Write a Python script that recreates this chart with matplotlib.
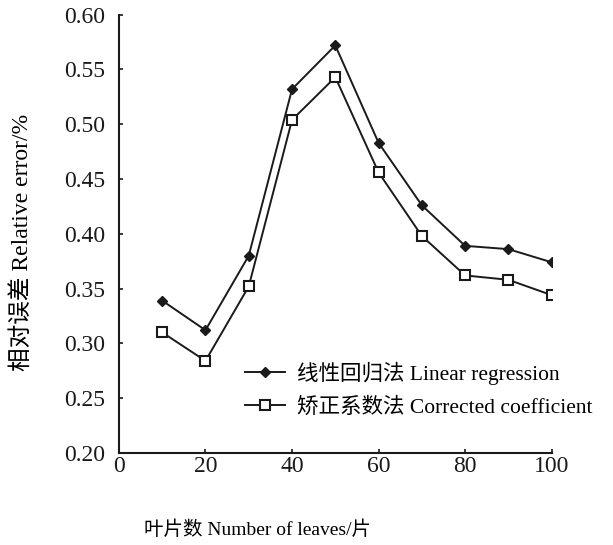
import matplotlib
matplotlib.use("Agg")
import matplotlib.pyplot as plt

plt.rcParams["font.family"] = ["Liberation Serif", "Noto Sans CJK SC"]
plt.rcParams["axes.unicode_minus"] = False

leaves = [10, 20, 30, 40, 50, 60, 70, 80, 90, 100]
linear_reg = [0.339, 0.312, 0.380, 0.532, 0.572, 0.483, 0.426, 0.389, 0.386, 0.374]
corrected = [0.310, 0.284, 0.352, 0.504, 0.543, 0.456, 0.398, 0.362, 0.358, 0.344]

x_ticks = [0, 20, 40, 60, 80, 100]
y_ticks = [0.20, 0.25, 0.30, 0.35, 0.40, 0.45, 0.50, 0.55, 0.60]

C_LINE = "#1a1a1a"

fig = plt.figure(figsize=(6.13, 5.45), dpi=100)
ax = fig.add_axes([0.194, 0.169, 0.706, 0.804])

ax.plot(leaves, linear_reg, color=C_LINE, lw=1.4, marker="D", ms=5,
        mfc=C_LINE, mec=C_LINE, label="线性回归法 Linear regression")
ax.plot(leaves, corrected, color=C_LINE, lw=1.4, marker="s", ms=7,
        mfc="white", mec=C_LINE, mew=1.5, label="矫正系数法 Corrected coefficient")

ax.set_xlim(0, 100)
ax.set_ylim(0.20, 0.60)
ax.set_xticks(x_ticks)
ax.set_yticks(y_ticks)
ax.set_yticklabels([f"{v:.2f}" for v in y_ticks])
ax.tick_params(direction="in", length=3, width=1.2, labelsize=17, colors=C_LINE)
ax.tick_params(axis="y", pad=10)
ax.tick_params(axis="x", pad=2)
ax.spines["top"].set_visible(False)
ax.spines["right"].set_visible(False)
for s in ("left", "bottom"):
    ax.spines[s].set_linewidth(1.5)
    ax.spines[s].set_color(C_LINE)

ax.set_xlabel("叶片数 Number of leaves/片", fontsize=14)
ax.xaxis.set_label_coords(0.32, -0.155)
ax.set_ylabel("相对误差 Relative error/%", fontsize=17)
ax.yaxis.set_label_coords(-0.2, 0.48)

ax.legend(loc="lower left", bbox_to_anchor=(0.291, 0.08), frameon=False,
          fontsize=15.5, handlelength=1.85, handletextpad=0.55, labelspacing=0.6,
          borderaxespad=0, borderpad=0)

fig.savefig("out.png", dpi=100, facecolor="white")
